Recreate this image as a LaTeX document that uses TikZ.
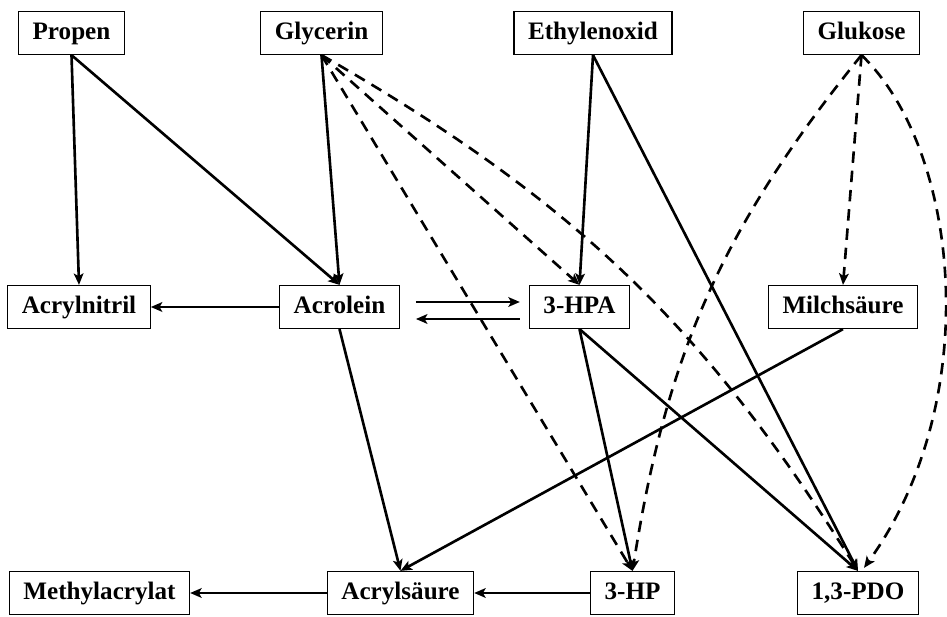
\documentclass[tikz,border=0pt]{standalone}
\usepackage{fontspec}
\setmainfont{Liberation Serif}
\usetikzlibrary{arrows.meta,calc}
\begin{document}
\begin{tikzpicture}[x=0.02cm,y=-0.02cm,
  box/.style={draw, line width=0.7pt, font=\fontsize{14.3}{17}\selectfont\bfseries,
    inner xsep=0.28cm, inner ysep=0pt, minimum height=0.86cm, text height=10pt, text depth=3pt},
  link/.style={line width=1.5pt, -{Stealth[length=6.5pt,width=5.5pt,inset=1.5pt]}},
  dlink/.style={link, dash pattern=on 6.5pt off 4.5pt}]
\useasboundingbox (0,0) rectangle (947,617);
% nodes
\node[box] (propen)   at (71.5,33)  {Propen};
\node[box] (glycerin) at (321.5,33) {Glycerin};
\node[box] (ethylen)  at (593,33)   {Ethylenoxid};
\node[box] (glukose)  at (861.5,33) {Glukose};
\node[box] (acrylnitril) at (79,307)  {Acrylnitril};
\node[box] (acrolein)    at (339.5,307) {Acrolein};
\node[box] (hpa)         at (579.5,307) {3-HPA};
\node[box] (milch)       at (843,307) {Milchsäure};
\node[box] (methyl) at (99.5,593) {Methylacrylat};
\node[box] (acryls) at (400.5,593) {Acrylsäure};
\node[box] (hp)     at (632.5,593) {3-HP};
\node[box] (pdo)    at (858,593)   {1,3-PDO};
% helper coordinates
\coordinate (r1s) at ($(acrolein.east)+(16,-5)$);
\coordinate (r1e) at ($(hpa.west)+(-9,-5)$);
\coordinate (r2s) at ($(hpa.west)+(-9,12)$);
\coordinate (r2e) at ($(acrolein.east)+(16,12)$);
\coordinate (pdoR) at ($(pdo.north)+(6,-3)$);
% solid connectors
\draw[link] (propen.south) -- (acrylnitril.north);
\draw[link] (propen.south) -- (acrolein.north);
\draw[link] (glycerin.south) -- (acrolein.north);
\draw[link] (ethylen.south) -- (hpa.north);
\draw[link] (ethylen.south) -- (pdo.north);
\draw[link] (acrolein.west) -- (acrylnitril.east);
\draw[link] (r1s) -- (r1e);
\draw[link] (r2s) -- (r2e);
\draw[link] (acrolein.south) -- (acryls.north);
\draw[link] (milch.south) -- (acryls.north);
\draw[link] (hpa.south) -- (hp.north);
\draw[link] (hpa.south) -- (pdo.north);
\draw[link] (acryls.west) -- (methyl.east);
\draw[link] (hp.west) -- (acryls.east);
% dashed connectors
\draw[dlink] (glycerin.south) -- (hpa.north);
\draw[dlink] (glycerin.south) -- (hp.north);
\draw[dlink] (glycerin.south) to[bend left=14] (pdo.north);
\draw[dlink] (glukose.south) -- (milch.north);
\draw[dlink] (glukose.south) to[bend right=15] (hp.north);
\draw[dlink] (glukose.south) .. controls (960,150) and (985,400) .. (pdoR);
\end{tikzpicture}
\end{document}
